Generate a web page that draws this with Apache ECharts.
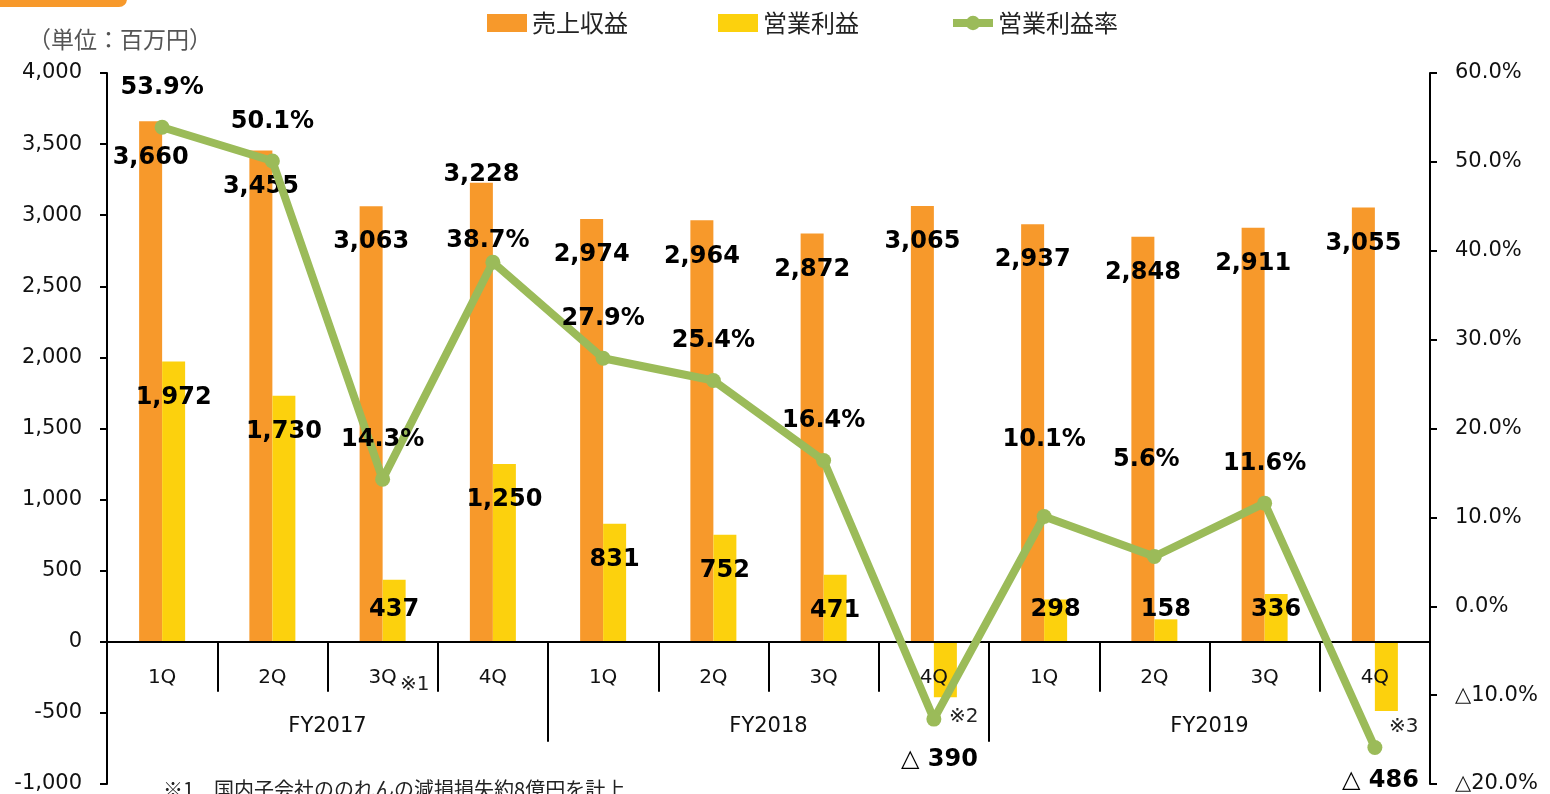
<!DOCTYPE html>
<html>
<head>
<meta charset="utf-8">
<script src="https://cdn.jsdelivr.net/npm/echarts@6/dist/echarts.min.js"></script>
<style>
  html, body { margin: 0; padding: 0; background: #fff; }
  #chart { width: 1550px; height: 794px; }
</style>
</head>
<body>
<div id="chart"></div>
<script>
// quarterly data, FY2017 - FY2019 (単位：百万円)
var quarters = ['1Q', '2Q', '3Q', '4Q', '1Q', '2Q', '3Q', '4Q', '1Q', '2Q', '3Q', '4Q'];
var fiscalYears = ['FY2017', 'FY2018', 'FY2019'];
var revenue = [3660, 3455, 3063, 3228, 2974, 2964, 2872, 3065, 2937, 2848, 2911, 3055];
var opProfit = [1972, 1730, 437, 1250, 831, 752, 471, -390, 298, 158, 336, -486];
var opMargin = [53.9, 50.1, 14.3, 38.7, 27.9, 25.4, 16.4, -12.7, 10.1, 5.6, 11.6, -15.9];
var leftTicks = [-1000, 4000, 500];   // min, max, step
var rightTicks = [-20, 60, 10];
var seriesNames = ['売上収益', '営業利益', '営業利益率'];

var ORANGE = '#F7992B', YELLOW = '#FCD10D', GREEN = '#9BBB59';
var NUMFONT = "'DejaVu Sans', 'Noto Sans CJK JP', sans-serif";
var JPFONT = "'Noto Sans CJK JP', sans-serif";

// plot box
var GRID = { left: 107, right: 120, top: 73, bottom: 10 };
var plotH = 794 - GRID.top - GRID.bottom;
// x axis sits on the zero line of the left axis
var zeroLift = plotH * (0 - leftTicks[0]) / (leftTicks[1] - leftTicks[0]);

function fmtNum(v) {
    return v < 0 ? '△ ' + Math.abs(v).toLocaleString('en-US') : v.toLocaleString('en-US');
}

var lblBase = { show: true, color: '#000', fontFamily: NUMFONT, fontWeight: 'bold', fontSize: 24 };

// label placement tweaks (copied from the slide layout)
var revData = revenue.map(function (v, i) {
    var lb = i === 3 ? { position: 'top', offset: [0, 9] } : { position: 'insideTop', offset: [0, 19] };
    return { value: v, label: lb };
});
var negDrop = { 7: 46, 11: 53 };
var profData = opProfit.map(function (v, i) {
    var lb;
    if (v < 0) lb = { position: 'bottom', offset: [-6, negDrop[i] || 48] };
    else if (v < 460) lb = { position: 'insideBottom', offset: [0, -15] };
    else lb = { position: 'insideTop', offset: [0, 19] };
    return { value: v, label: lb };
});
var marginNudge = { 3: [-5, 3], 8: [0, -52], 9: [-8, -72] };
var marginData = opMargin.map(function (v, i) {
    return {
        value: v,
        label: v < 0 ? { show: false } : { offset: marginNudge[i] || [0, -15] }
    };
});

var chart = echarts.init(document.getElementById('chart'));

var option = {
    backgroundColor: '#fff',
    animation: false,
    textStyle: { fontFamily: NUMFONT },
    legend: {
        left: 482, top: 6,
        itemWidth: 40, itemHeight: 18, itemGap: 90, itemTextGap: 4,
        textStyle: { fontFamily: JPFONT, fontSize: 24, color: '#222' },
        data: [
            { name: seriesNames[0], icon: 'rect' },
            { name: seriesNames[1], icon: 'rect' },
            { name: seriesNames[2], lineStyle: { width: 8 } }
        ]
    },
    grid: {
        left: GRID.left, right: GRID.right, top: GRID.top, bottom: GRID.bottom,
        containLabel: false, outerBoundsMode: 'none'
    },
    xAxis: [{
        type: 'category',
        data: quarters,
        position: 'bottom',
        offset: -zeroLift,
        boundaryGap: true,
        z: 2.5,
        axisLine: { show: true, onZero: false, lineStyle: { color: '#000', width: 2 } },
        axisTick: { show: true, inside: false, alignWithLabel: false, length: 50, interval: 0, lineStyle: { color: '#000', width: 2 } },
        axisLabel: { margin: 26, fontSize: 20, color: '#111', fontFamily: NUMFONT, interval: 0 }
    }, {
        type: 'category',
        data: fiscalYears,
        position: 'bottom',
        offset: -zeroLift,
        boundaryGap: true,
        z: 2.5,
        axisLine: { show: false, onZero: false },
        axisTick: { show: true, inside: false, length: 100, interval: 0, lineStyle: { color: '#000', width: 2 } },
        axisLabel: { margin: 74, fontSize: 21, color: '#111', fontFamily: NUMFONT, interval: 0 }
    }],
    yAxis: [{
        type: 'value',
        min: leftTicks[0], max: leftTicks[1], interval: leftTicks[2],
        axisLine: { show: true, lineStyle: { color: '#000', width: 2 } },
        axisTick: { show: true, length: 7, lineStyle: { color: '#000', width: 2 } },
        splitLine: { show: false },
        axisLabel: {
            margin: 25, fontSize: 21, color: '#111', fontFamily: NUMFONT,
            formatter: function (v) { return v.toLocaleString('en-US'); }
        }
    }, {
        type: 'value',
        position: 'right',
        min: rightTicks[0], max: rightTicks[1], interval: rightTicks[2],
        axisLine: { show: true, lineStyle: { color: '#000', width: 2 } },
        axisTick: { show: true, length: 7, lineStyle: { color: '#000', width: 2 } },
        splitLine: { show: false },
        axisLabel: {
            margin: 25, fontSize: 21, color: '#111', fontFamily: NUMFONT,
            formatter: function (v) {
                return v < 0 ? '△' + Math.abs(v).toFixed(1) + '%' : v.toFixed(1) + '%';
            }
        }
    }],
    series: [{
        name: seriesNames[0],
        type: 'bar',
        barWidth: 23,
        barGap: '0%',
        itemStyle: { color: ORANGE },
        label: Object.assign({}, lblBase, { formatter: function (p) { return fmtNum(p.value); } }),
        data: revData,
        z: 2
    }, {
        name: seriesNames[1],
        type: 'bar',
        barWidth: 23,
        barGap: '0%',
        itemStyle: { color: YELLOW },
        label: Object.assign({}, lblBase, { formatter: function (p) { return fmtNum(p.value); } }),
        data: profData,
        z: 2
    }, {
        name: seriesNames[2],
        type: 'line',
        yAxisIndex: 1,
        symbol: 'circle',
        symbolSize: 15,
        lineStyle: { color: GREEN, width: 8 },
        itemStyle: { color: GREEN },
        label: Object.assign({}, lblBase, {
            position: 'top',
            formatter: function (p) { return p.value.toFixed(1) + '%'; }
        }),
        data: marginData,
        z: 3
    }],
    graphic: [
        { type: 'rect', shape: { x: -12, y: -14, width: 139, height: 21, r: 8 }, style: { fill: ORANGE } },
        { type: 'text', left: 28, top: 28, style: { text: '（単位：百万円）', font: '23px ' + JPFONT, fill: '#555' } },
        { type: 'text', left: 400, top: 675, style: { text: '※1', font: '20px ' + NUMFONT, fill: '#222' } },
        { type: 'text', left: 949, top: 707, style: { text: '※2', font: '20px ' + NUMFONT, fill: '#222' } },
        { type: 'text', left: 1389, top: 717, style: { text: '※3', font: '20px ' + NUMFONT, fill: '#222' } },
        { type: 'text', left: 163, top: 779, style: { text: '※1　国内子会社ののれんの減損損失約8億円を計上', font: '20px ' + JPFONT, fill: '#222' } }
    ]
};

chart.setOption(option);
</script>
</body>
</html>
